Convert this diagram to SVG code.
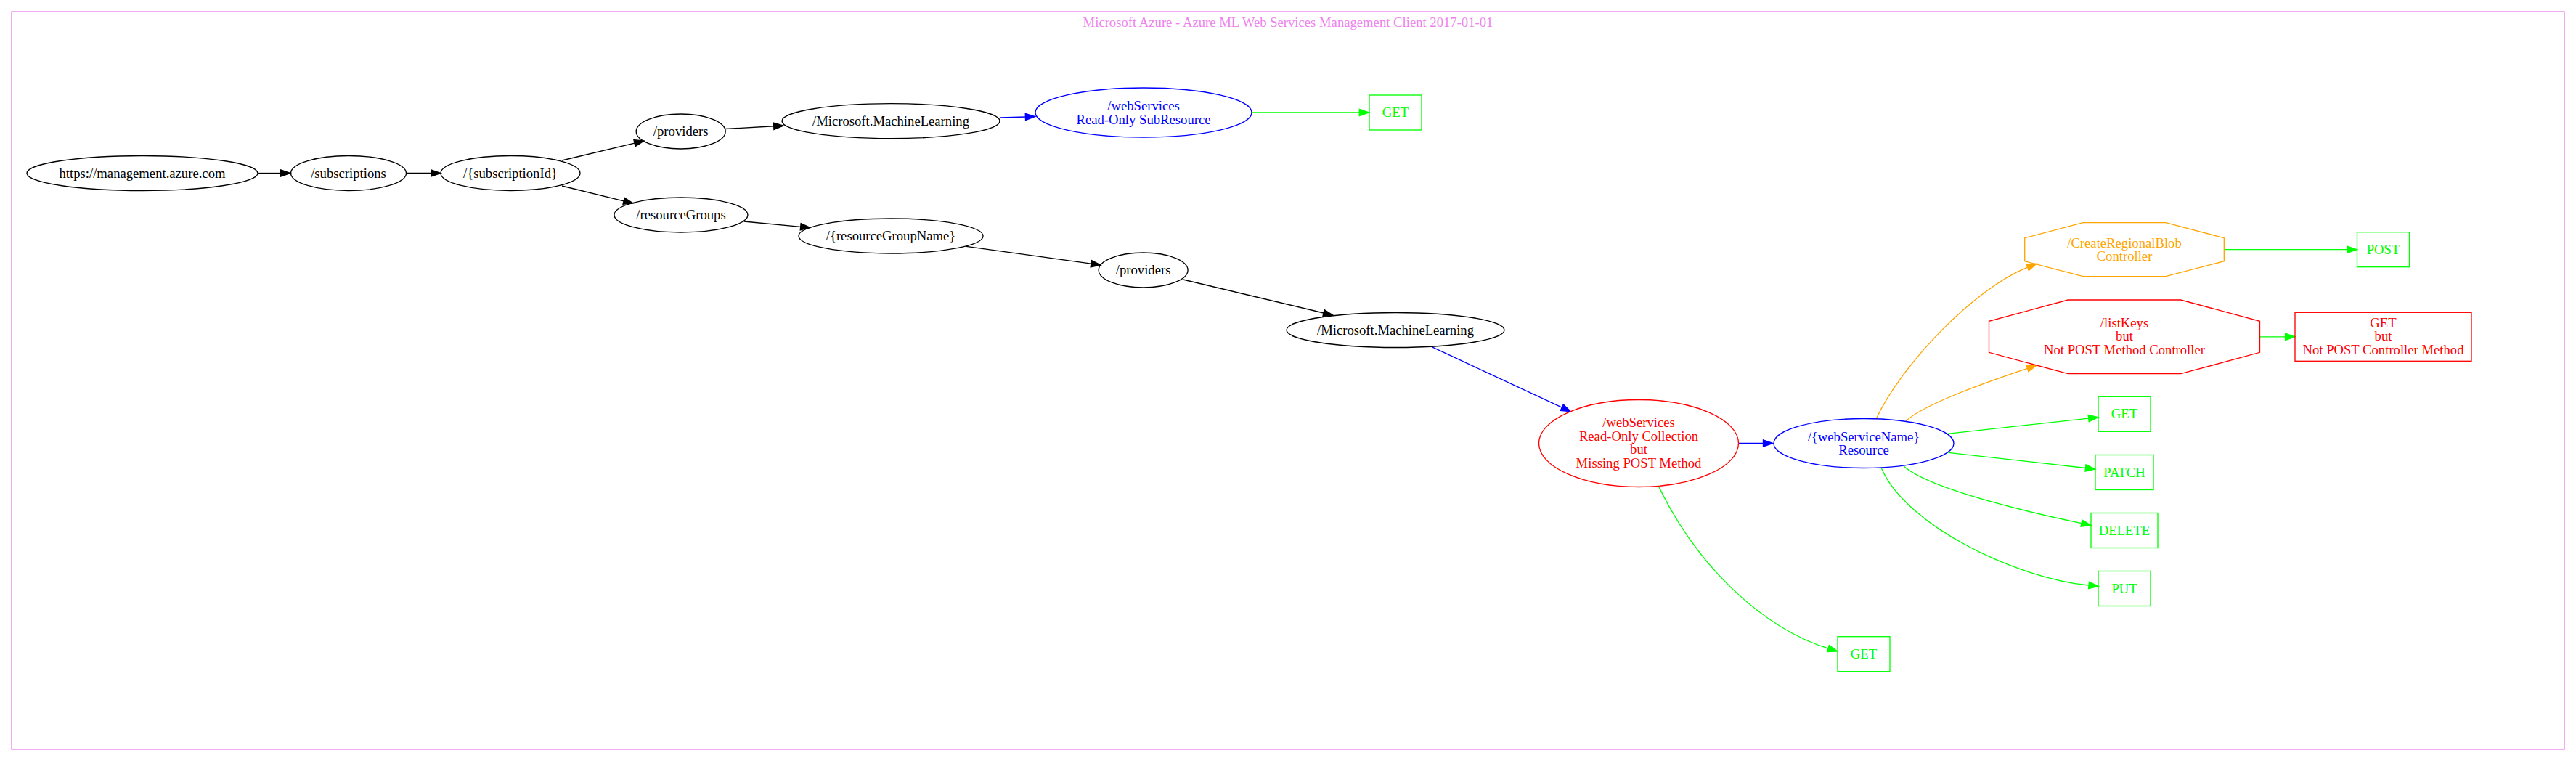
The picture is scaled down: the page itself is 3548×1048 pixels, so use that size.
<svg xmlns="http://www.w3.org/2000/svg" width="3548" height="1048" viewBox="0 0 3548 1048">
<style>
text{font-family:"Liberation Serif","Times New Roman",serif;font-size:18.67px;text-anchor:middle}
.n{fill:none;stroke-width:1.33}
.k{stroke:#000}.b{stroke:#0000ff}.r{stroke:#ff0000}.g{stroke:#00ff00}.o{stroke:#ffa500}
.tk{fill:#000}.tb{fill:#0000ff}.tr{fill:#ff0000}.tg{fill:#00ff00}.to{fill:#ffa500}
.e{fill:none;stroke-width:1.33}
</style>
<defs>
<marker id="ak" markerUnits="userSpaceOnUse" markerWidth="16" markerHeight="12" refX="0" refY="4.67" orient="auto" overflow="visible"><path d="M0,0 L13.33,4.67 L0,9.33 z" fill="#000" stroke="#000" stroke-width="1.33"/></marker>
<marker id="ab" markerUnits="userSpaceOnUse" markerWidth="16" markerHeight="12" refX="0" refY="4.67" orient="auto" overflow="visible"><path d="M0,0 L13.33,4.67 L0,9.33 z" fill="#0000ff" stroke="#0000ff" stroke-width="1.33"/></marker>
<marker id="ag" markerUnits="userSpaceOnUse" markerWidth="16" markerHeight="12" refX="0" refY="4.67" orient="auto" overflow="visible"><path d="M0,0 L13.33,4.67 L0,9.33 z" fill="#00ff00" stroke="#00ff00" stroke-width="1.33"/></marker>
<marker id="ao" markerUnits="userSpaceOnUse" markerWidth="16" markerHeight="12" refX="0" refY="4.67" orient="auto" overflow="visible"><path d="M0,0 L13.33,4.67 L0,9.33 z" fill="#ffa500" stroke="#ffa500" stroke-width="1.33"/></marker>
</defs>
<rect width="3548" height="1048" fill="#fff"/>
<g id="cluster">
<rect x="16" y="16" width="3516" height="1016" fill="none" stroke="#ee82ee" stroke-width="1.33"/>
<text x="1774" y="36.7" fill="#ee82ee">Microsoft Azure - Azure ML Web Services Management Client 2017-01-01</text>
</g>
<g id="edges">
<path class="e k" marker-end="url(#ak)" d="M355,238.5 L386.7,238.5"/>
<path class="e k" marker-end="url(#ak)" d="M560,238.5 L593.7,238.5"/>
<path class="e k" marker-end="url(#ak)" d="M774,221 L874,197.1"/>
<path class="e k" marker-end="url(#ak)" d="M774,256 L859.1,276.8"/>
<path class="e k" marker-end="url(#ak)" d="M999,177.5 L1065.7,173.75"/>
<path class="e b" marker-end="url(#ab)" d="M1377.5,162 L1412.4,161"/>
<path class="e g" marker-end="url(#ag)" d="M1724,155 L1872.3,155"/>
<path class="e k" marker-end="url(#ak)" d="M1024.5,305 L1102.7,312.3"/>
<path class="e k" marker-end="url(#ak)" d="M1331,339.3 L1502.8,363.2"/>
<path class="e k" marker-end="url(#ak)" d="M1629.5,385 L1823,431"/>
<path class="e b" marker-end="url(#ab)" d="M1972,477.7 L2151.3,561.1"/>
<path class="e b" marker-end="url(#ab)" d="M2394.5,610.5 L2428.5,610.5"/>
<path class="e g" marker-end="url(#ag)" d="M2285,671 C2338,780 2428,865 2518,893"/>
<path class="e o" marker-end="url(#ao)" d="M2584,577 C2619,502 2718.4,397.9 2792.6,368.2"/>
<path class="e o" marker-end="url(#ao)" d="M2625,580 C2650,556 2740.3,524.9 2792.4,507.3"/>
<path class="e g" marker-end="url(#ag)" d="M2682,597.3 L2876.7,576.1"/>
<path class="e g" marker-end="url(#ag)" d="M2683.6,623.3 L2872.5,644.5"/>
<path class="e g" marker-end="url(#ag)" d="M2622,642 C2659.5,675 2808,708.4 2867,720.6"/>
<path class="e g" marker-end="url(#ag)" d="M2591,644 C2625,725 2780,797 2877,806"/>
<path class="e g" marker-end="url(#ag)" d="M3063.3,343.7 L3233,343.7"/>
<path class="e g" marker-end="url(#ag)" d="M3112.5,463.8 L3147.6,463.8"/>
</g>
<g id="n_root"><ellipse class="n k" cx="196" cy="238.5" rx="159" ry="24"/><text class="tk" x="196" y="244.5">https://management.azure.com</text></g>
<g id="n_subscriptions"><ellipse class="n k" cx="480" cy="238.5" rx="79.5" ry="24"/><text class="tk" x="480" y="244.5">/subscriptions</text></g>
<g id="n_subscriptionId"><ellipse class="n k" cx="703" cy="238.5" rx="96" ry="24"/><text class="tk" x="703" y="244.5">/{subscriptionId}</text></g>
<g id="n_providers1"><ellipse class="n k" cx="937.7" cy="181" rx="61.5" ry="24"/><text class="tk" x="937.7" y="187">/providers</text></g>
<g id="n_ml1"><ellipse class="n k" cx="1227" cy="166.7" rx="150" ry="24"/><text class="tk" x="1227" y="172.7">/Microsoft.MachineLearning</text></g>
<g id="n_webServices1"><ellipse class="n b" cx="1575" cy="155" rx="149" ry="34"/><text class="tb" x="1575" y="152">/webServices</text><text class="tb" x="1575" y="170.7">Read-Only SubResource</text></g>
<g id="n_get1"><rect class="n g" x="1886" y="131" width="72" height="48"/><text class="tg" x="1922" y="161">GET</text></g>
<g id="n_resourceGroups"><ellipse class="n k" cx="938" cy="296" rx="92" ry="24"/><text class="tk" x="938" y="302">/resourceGroups</text></g>
<g id="n_resourceGroupName"><ellipse class="n k" cx="1227" cy="325" rx="127" ry="24"/><text class="tk" x="1227" y="331">/{resourceGroupName}</text></g>
<g id="n_providers2"><ellipse class="n k" cx="1574.6" cy="372" rx="61.5" ry="24"/><text class="tk" x="1574.6" y="378">/providers</text></g>
<g id="n_ml2"><ellipse class="n k" cx="1922" cy="454.5" rx="150" ry="24"/><text class="tk" x="1922" y="460.5">/Microsoft.MachineLearning</text></g>
<g id="n_webServices2"><ellipse class="n r" cx="2257" cy="610.5" rx="137.5" ry="60"/><text class="tr" x="2257" y="588.1">/webServices</text><text class="tr" x="2257" y="606.8">Read-Only Collection</text><text class="tr" x="2257" y="625.4">but</text><text class="tr" x="2257" y="644.1">Missing POST Method</text></g>
<g id="n_get2"><rect class="n g" x="2531" y="876.7" width="72" height="48"/><text class="tg" x="2567" y="906.7">GET</text></g>
<g id="n_webServiceName"><ellipse class="n b" cx="2567" cy="610.5" rx="124" ry="34"/><text class="tb" x="2567" y="607.5">/{webServiceName}</text><text class="tb" x="2567" y="626.2">Resource</text></g>
<g id="n_createRegionalBlob"><polygon class="n o" points="2869,306.7 2983,306.7 3063.3,327.7 3063.3,359.7 2983,380.7 2869,380.7 2788.7,359.7 2788.7,327.7"/><text class="to" x="2926" y="340.7">/CreateRegionalBlob</text><text class="to" x="2926" y="359.4">Controller</text></g>
<g id="n_post"><rect class="n g" x="3246.5" y="319.7" width="72" height="48"/><text class="tg" x="3282.5" y="349.7">POST</text></g>
<g id="n_listKeys"><polygon class="n r" points="2848.3,413 3003.7,413 3112.5,442.3 3112.5,485.3 3003.7,514.7 2848.3,514.7 2739.5,485.3 2739.5,442.3"/><text class="tr" x="2926" y="450.7">/listKeys</text><text class="tr" x="2926" y="469.4">but</text><text class="tr" x="2926" y="488">Not POST Method Controller</text></g>
<g id="n_getListKeys"><rect class="n r" x="3161" y="430.3" width="243" height="67"/><text class="tr" x="3282.5" y="450.7">GET</text><text class="tr" x="3282.5" y="469.4">but</text><text class="tr" x="3282.5" y="488">Not POST Controller Method</text></g>
<g id="n_get3"><rect class="n g" x="2890" y="546.3" width="72" height="48"/><text class="tg" x="2926" y="576.3">GET</text></g>
<g id="n_patch"><rect class="n g" x="2886" y="626.5" width="80" height="48"/><text class="tg" x="2926" y="656.5">PATCH</text></g>
<g id="n_delete"><rect class="n g" x="2880" y="706.5" width="92" height="48"/><text class="tg" x="2926" y="736.5">DELETE</text></g>
<g id="n_put"><rect class="n g" x="2890" y="786.5" width="72" height="48"/><text class="tg" x="2926" y="816.5">PUT</text></g>
</svg>
